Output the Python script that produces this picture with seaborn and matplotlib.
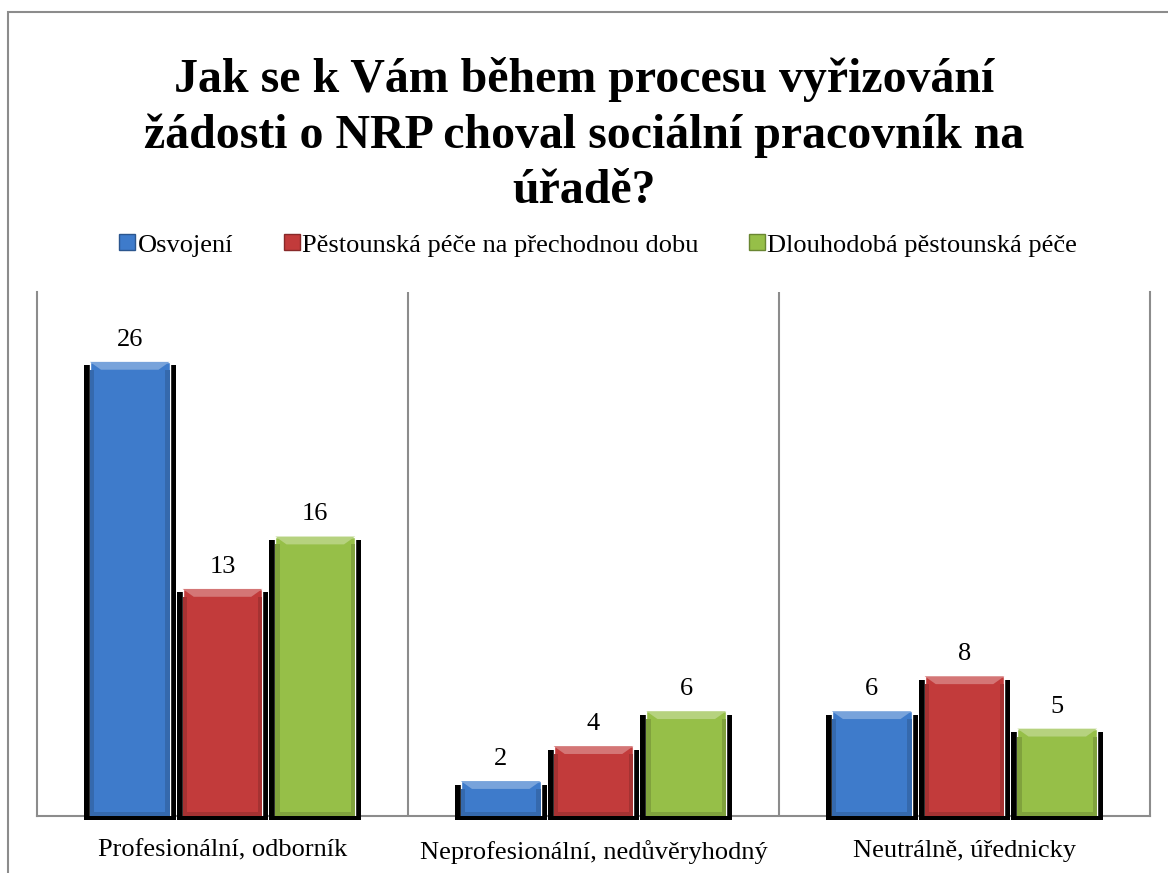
import matplotlib
matplotlib.use("Agg")
import matplotlib.pyplot as plt
import matplotlib.colors as mcolors
from matplotlib.patches import Rectangle, Polygon
from matplotlib.lines import Line2D
import seaborn as sns
import pandas as pd
import numpy as np

sns.set_theme(style="white")
plt.rcParams['font.family'] = ['Liberation Serif', 'DejaVu Serif']
plt.rcParams['text.color'] = "black"

# data
categories = ["Profesionální, odborník", "Neprofesionální, nedůvěryhodný", "Neutrálně, úřednicky"]
series = ["Osvojení", "Pěstounská péče na přechodnou dobu", "Dlouhodobá pěstounská péče"]
osvojeni = [26, 2, 6]
prechodna = [13, 4, 8]
dlouhodoba = [16, 6, 5]
colors = ["#3E7BCB", "#C23B3B", "#96BF48"]
title = "Jak se k Vám během procesu vyřizování\nžádosti o NRP choval sociální pracovník na\núřadě?"

df = pd.DataFrame({
    "kategorie": categories * 3,
    "serie": [series[0]] * 3 + [series[1]] * 3 + [series[2]] * 3,
    "pocet": osvojeni + prechodna + dlouhodoba,
})

fig = plt.figure(figsize=(11.68, 8.73), dpi=100)
ax = fig.add_axes([37 / 1168, 1 - 816 / 873, (1150 - 37) / 1168, (816 - 292) / 873])

sns.barplot(data=df, x="kategorie", y="pocet", hue="serie", hue_order=series,
            order=categories, palette=colors, saturation=1, width=0.75, gap=0.14,
            edgecolor="white", linewidth=1, legend=False, ax=ax, zorder=3)

ax.set_xlim(-0.5, 2.5)
ax.set_ylim(0, 30)

# shadow + bevel for every bar, derived from the drawn patches
for p in list(ax.patches):
    x, w, h = p.get_x(), p.get_width(), p.get_height()
    if h <= 0:
        continue
    base = np.array(mcolors.to_rgb(p.get_facecolor()))
    light = base + (1 - base) * 0.3
    dark = base * 0.85
    sh = 0.016
    ax.add_patch(Rectangle((x - sh, -0.25), w + 2 * sh, h + 0.05, facecolor="black",
                           edgecolor="none", zorder=2, clip_on=False))
    bev = 0.45
    bx = 0.03
    ax.add_patch(Polygon([(x, h), (x + w, h), (x + w - bx, h - bev), (x + bx, h - bev)],
                         closed=True, facecolor=light, edgecolor="none", zorder=4))
    ax.add_patch(Rectangle((x, 0), bx * 0.4, h - bev, facecolor=dark, edgecolor="none", zorder=4))
    ax.add_patch(Rectangle((x + w - bx * 0.4, 0), bx * 0.4, h - bev, facecolor=dark,
                           edgecolor="none", zorder=4))
    ax.add_patch(Rectangle((x, 0), w, 0.25, facecolor=dark, edgecolor="none", zorder=4))
    ax.annotate(f"{int(h)}", (x + w / 2, h), xytext=(0, 8), textcoords="offset points",
                ha="center", va="bottom", fontsize=19, color="black")

# separators between categories
for xv in [0.5, 1.5]:
    ax.axvline(xv, color="#8C8C8C", linewidth=1.5, zorder=1)

for side in ["left", "right", "bottom"]:
    ax.spines[side].set_color("#8C8C8C")
    ax.spines[side].set_linewidth(1.5)
    ax.spines[side].set_zorder(1)
ax.spines["top"].set_visible(False)

ax.set_yticks([])
ax.set_xlabel("")
ax.set_ylabel("")
ax.tick_params(axis="x", length=0, pad=17, labelsize=19, colors="black")

handles = [Line2D([], [], marker="s", linestyle="none", markersize=11,
                  markerfacecolor=c, markeredgecolor=mcolors.to_rgb(c) * np.array(0.7))
           for c in colors]
fig.legend(handles, series, loc="center", bbox_to_anchor=(597 / 1168, 1 - 245 / 873),
           ncol=3, frameon=False, fontsize=19, handletextpad=0.0, columnspacing=1.8,
           handlelength=0.8)

fig.suptitle(title, x=0.5, y=1 - 57 / 873, va="top", fontsize=34.5, fontweight="bold",
             linespacing=1.33, color="black")

# outer chart border (cropped at right and bottom)
fig.patches.append(Rectangle((7.5 / 1168, -0.05), 1.1, 1 - 12.5 / 873 + 0.05,
                             transform=fig.transFigure, fill=False,
                             edgecolor="#8C8C8C", linewidth=1.5))

fig.savefig("out.png", dpi=100)
